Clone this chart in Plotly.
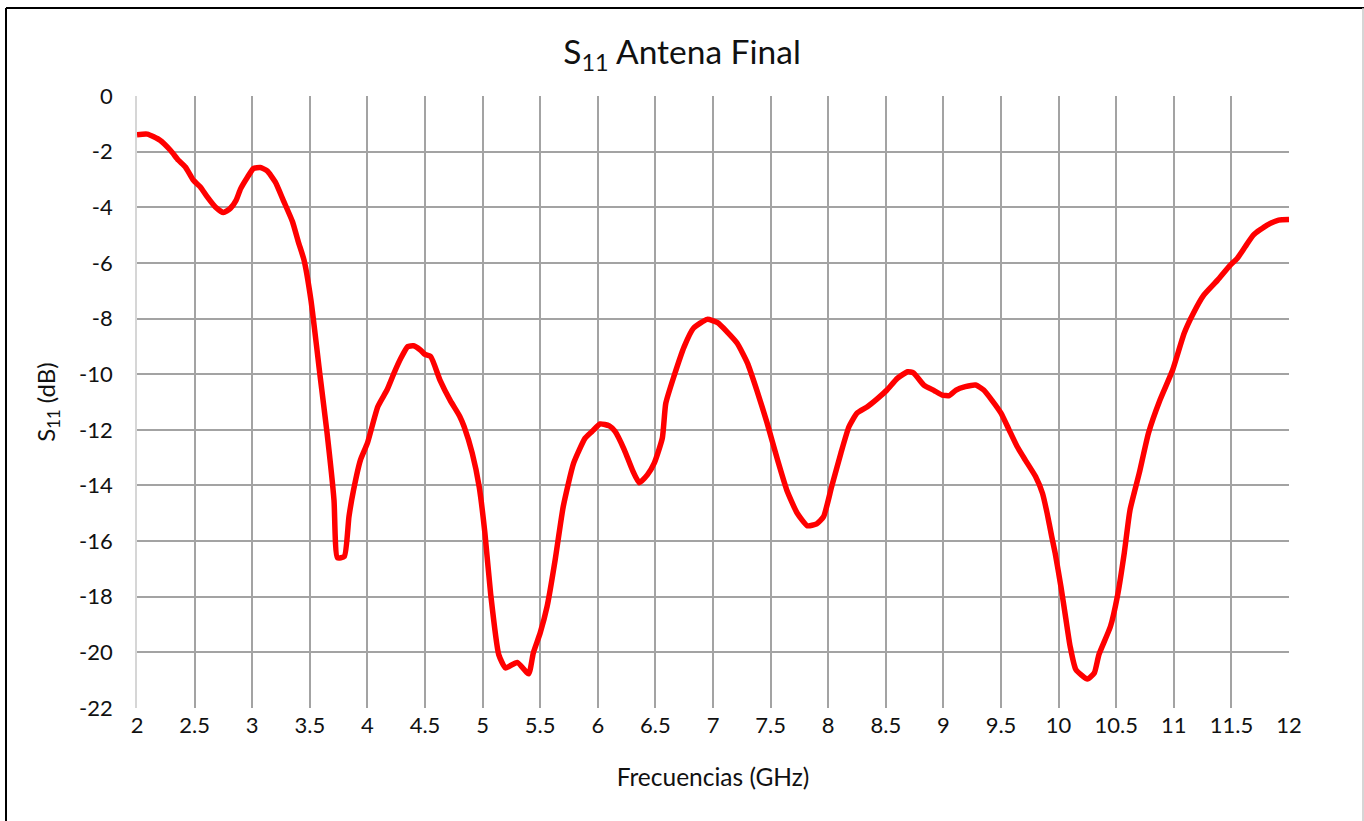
import plotly.graph_objects as go

# Reflection coefficient of the final antenna, frequency in GHz, S11 in dB
freq_ghz = [
    2.00, 2.09, 2.20, 2.29, 2.36, 2.42, 2.49, 2.55, 2.61, 2.68,
    2.75, 2.81, 2.86, 2.90, 2.96, 3.01, 3.07, 3.13, 3.20, 3.27,
    3.35, 3.40, 3.45, 3.51, 3.59, 3.65, 3.71, 3.74, 3.80, 3.84,
    3.88, 3.94, 4.00, 4.09, 4.17, 4.23, 4.29, 4.35, 4.40, 4.46,
    4.50, 4.55, 4.63, 4.72, 4.80, 4.84, 4.91, 4.97, 5.02, 5.07,
    5.14, 5.20, 5.30, 5.40, 5.44, 5.50, 5.56, 5.63, 5.70, 5.79,
    5.89, 5.95, 6.02, 6.10, 6.15, 6.23, 6.30, 6.36, 6.43, 6.49,
    6.56, 6.59, 6.66, 6.75, 6.83, 6.95, 7.04, 7.12, 7.21, 7.30,
    7.38, 7.47, 7.56, 7.64, 7.73, 7.82, 7.90, 7.96, 8.03, 8.11,
    8.18, 8.25, 8.34, 8.43, 8.51, 8.60, 8.69, 8.74, 8.83, 8.92,
    8.99, 9.05, 9.11, 9.19, 9.28, 9.35, 9.42, 9.50, 9.57, 9.64,
    9.71, 9.80, 9.86, 9.90, 9.94, 9.97, 10.02, 10.06, 10.10, 10.15,
    10.25, 10.31, 10.35, 10.45, 10.51, 10.57, 10.62, 10.70, 10.78, 10.88,
    10.99, 11.09, 11.17, 11.26, 11.38, 11.49, 11.55, 11.62, 11.69, 11.81,
    11.91, 12.00,
]

s11_db = [
    -1.39, -1.37, -1.59, -1.95, -2.31, -2.55, -3.03, -3.27, -3.63, -3.99,
    -4.19, -4.04, -3.75, -3.33, -2.91, -2.61, -2.57, -2.69, -3.09, -3.75,
    -4.52, -5.24, -5.90, -7.34, -10.09, -12.12, -14.52, -16.60, -16.55, -15.12,
    -14.16, -13.08, -12.48, -11.17, -10.57, -9.97, -9.43, -9.01, -8.98, -9.13,
    -9.29, -9.37, -10.21, -10.95, -11.50, -11.89, -12.84, -14.04, -15.71, -17.90,
    -20.08, -20.56, -20.36, -20.77, -20.02, -19.30, -18.35, -16.67, -14.76, -13.20,
    -12.30, -12.06, -11.79, -11.86, -12.06, -12.72, -13.44, -13.90, -13.62, -13.20,
    -12.30, -11.05, -10.09, -9.01, -8.35, -8.03, -8.15, -8.47, -8.89, -9.61,
    -10.57, -11.76, -13.08, -14.16, -14.99, -15.45, -15.38, -15.12, -14.04, -12.84,
    -11.89, -11.40, -11.17, -10.87, -10.57, -10.15, -9.91, -9.95, -10.39, -10.59,
    -10.75, -10.77, -10.57, -10.45, -10.39, -10.57, -10.93, -11.40, -12.00, -12.60,
    -13.08, -13.68, -14.28, -14.99, -15.83, -16.43, -17.63, -18.71, -19.78, -20.62,
    -20.96, -20.74, -20.08, -19.07, -17.99, -16.43, -14.88, -13.56, -12.12, -10.93,
    -9.85, -8.53, -7.81, -7.16, -6.62, -6.08, -5.84, -5.42, -5.00, -4.64,
    -4.46, -4.44,
]

x_ticks = [2, 2.5, 3, 3.5, 4, 4.5, 5, 5.5, 6, 6.5, 7, 7.5, 8, 8.5, 9, 9.5,
           10, 10.5, 11, 11.5, 12]
y_ticks = [0, -2, -4, -6, -8, -10, -12, -14, -16, -18, -20, -22]

W, H = 1364, 821
ML, MR, MT, MB = 137, 75, 96, 113
FONT = "Lato, 'Open Sans', sans-serif"
GRID = "#a3a3a3"
TEXT = "#111111"

fig = go.Figure(
    go.Scatter(
        x=freq_ghz,
        y=s11_db,
        mode="lines",
        line=dict(color="#ff0000", width=5.5, shape="spline", smoothing=0.5),
        hoverinfo="x+y",
        showlegend=False,
    )
)

# Frame of the chart object: pixel positions converted to paper units
pw, ph = W - ML - MR, H - MT - MB
def px(xp):
    return (xp - ML) / pw
def py(yp):
    return (H - MB - yp) / ph

fig.update_layout(
    width=W,
    height=H,
    margin=dict(l=ML, r=MR, t=MT, b=MB, pad=0),
    paper_bgcolor="white",
    plot_bgcolor="white",
    font=dict(family=FONT, size=22, color=TEXT),
    title=dict(
        text="S<sub>11</sub> Antena Final",
        x=0.5,
        xanchor="center",
        xref="container",
        y=1 - 52 / H,
        yanchor="middle",
        font=dict(family=FONT, size=33.5, color=TEXT),
    ),
    xaxis=dict(
        range=[2, 12],
        tickvals=x_ticks,
        ticktext=[f"{v:g}" for v in x_ticks],
        tickfont=dict(family=FONT, size=22, color=TEXT),
        showgrid=True,
        gridcolor=GRID,
        gridwidth=1.6,
        showline=False,
        zeroline=False,
        ticks="",
        ticklabelstandoff=2,
        title=dict(text="Frecuencias (GHz)", standoff=31,
                   font=dict(family=FONT, size=24.5, color=TEXT)),
    ),
    yaxis=dict(
        range=[-22, 0],
        tickvals=y_ticks,
        ticktext=[f"{v:g}" for v in y_ticks],
        tickfont=dict(family=FONT, size=22, color=TEXT),
        showgrid=True,
        gridcolor=GRID,
        gridwidth=1.6,
        showline=True,
        linecolor="#d6d6d6",
        linewidth=1.6,
        zeroline=False,
        ticks="",
        ticklabelstandoff=18,
        title=dict(text="S<sub>11</sub> (dB)", standoff=17,
                   font=dict(family=FONT, size=24, color=TEXT)),
    ),
    shapes=[
        dict(type="line", xref="paper", yref="paper",
             x0=px(6), x1=px(W), y0=py(8), y1=py(8),
             line=dict(color="black", width=2)),
        dict(type="line", xref="paper", yref="paper",
             x0=px(6), x1=px(6), y0=py(8), y1=py(H),
             line=dict(color="black", width=2)),
        dict(type="line", xref="paper", yref="paper",
             x0=px(W - 1), x1=px(W - 1), y0=py(8), y1=py(H),
             line=dict(color="#c8c8c8", width=1.5)),
    ],
)

fig.write_html("out.html")
